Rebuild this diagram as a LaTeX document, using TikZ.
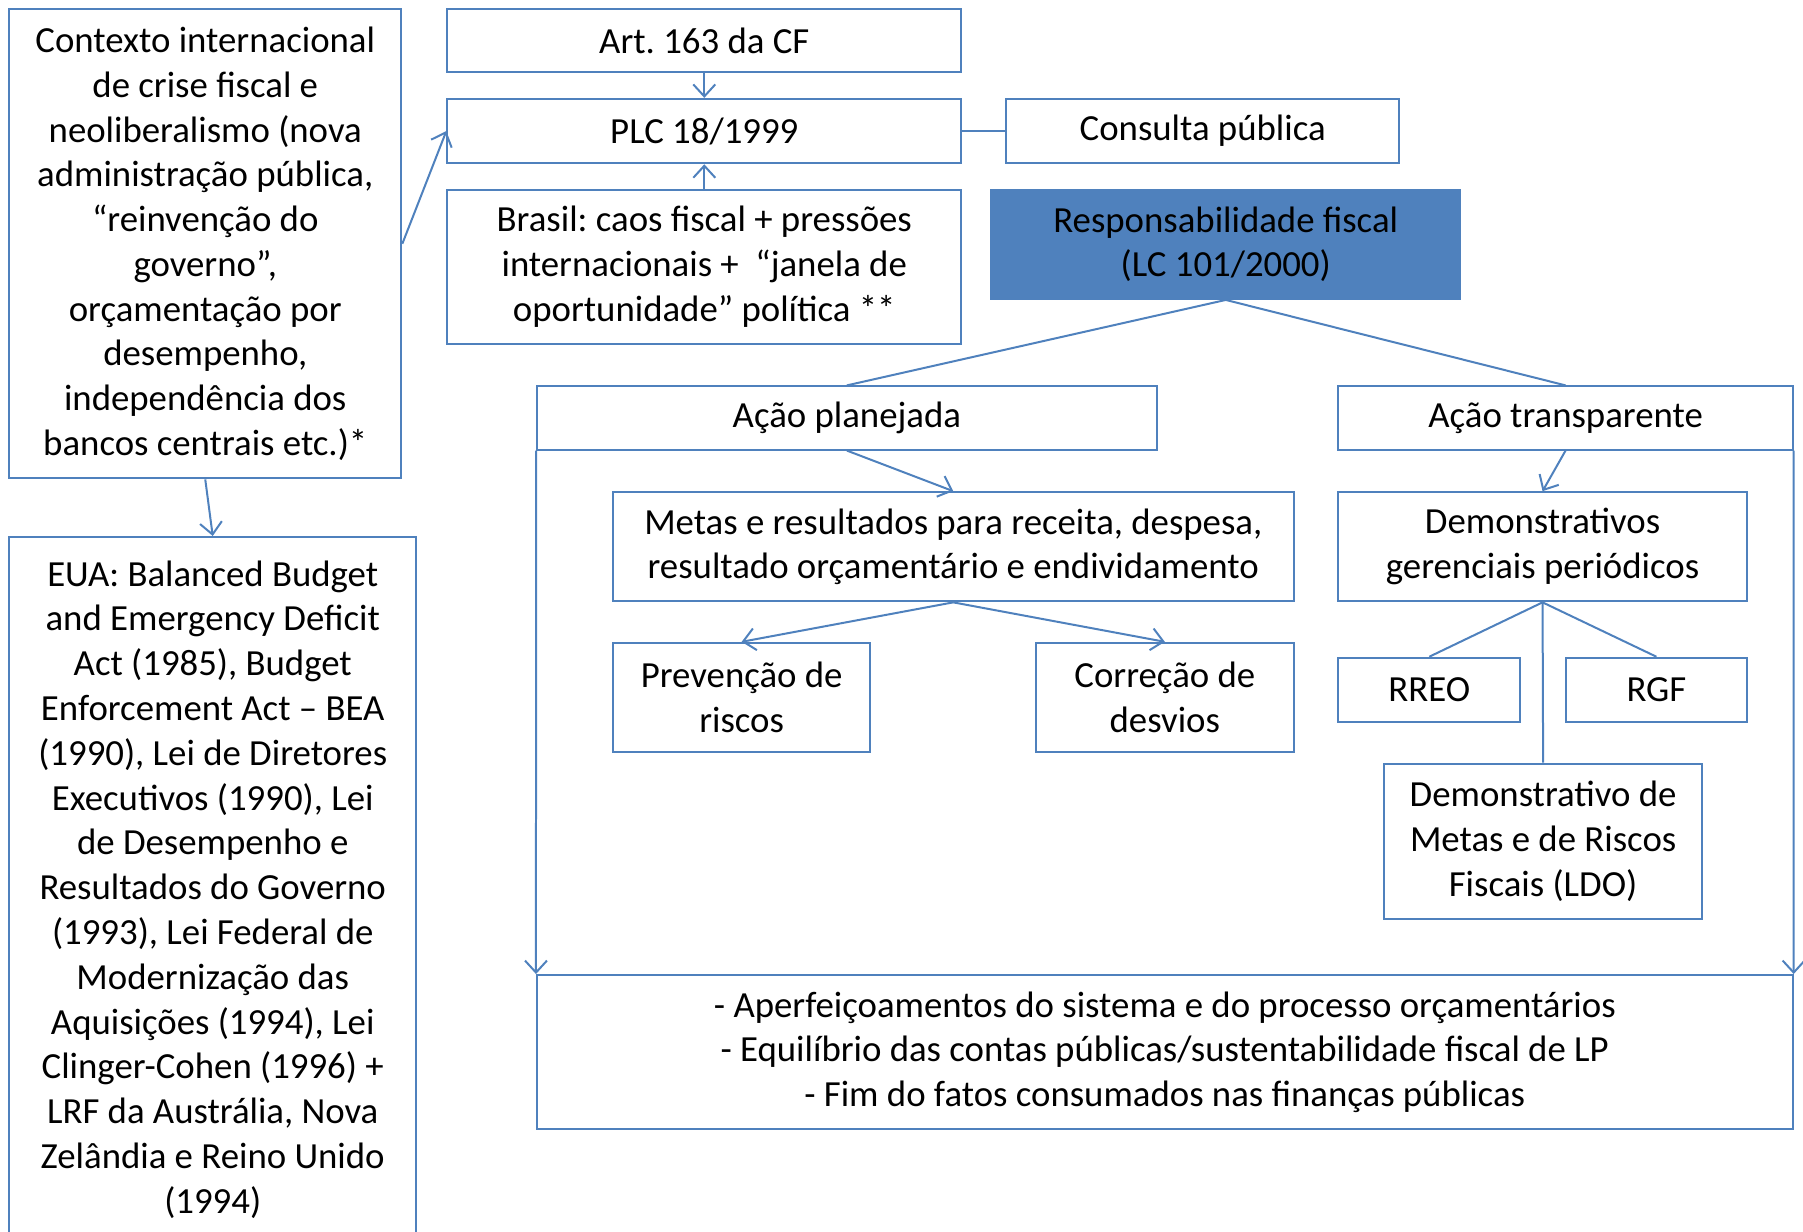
\documentclass[tikz,border=0pt]{standalone}
\usepackage{fontspec}
\setmainfont{Carlito}
\usetikzlibrary{arrows.meta}
\definecolor{lineblue}{RGB}{79,129,189}
\frenchspacing

\begin{document}
\begin{tikzpicture}[x=0.575pt,y=-0.575pt,
	font=\fontsize{18.4}{22.4}\selectfont,
	box/.style={draw=lineblue,line width=1pt,rectangle,align=center,inner sep=0pt},
	arr/.style={draw=lineblue,line width=1pt,-{Straight Barb[length=6pt,width=11pt]}},
	lnk/.style={draw=lineblue,line width=1pt}]
	\useasboundingbox (0,0) rectangle (1568,1071);
		\node[box,minimum width=196.1pt,minimum height=234.6pt](ctx) at (178.5,212) {Contexto internacional\\de crise fiscal e\\neoliberalismo (nova\\administração pública,\\“reinvenção do\\governo”,\\orçamentação por\\desempenho,\\independência dos\\bancos centrais etc.)*};
		\node[box,minimum width=203.6pt,minimum height=352.5pt](eua) at (185,773.5) {EUA: Balanced Budget\\and Emergency Deficit\\Act (1985), Budget\\Enforcement Act – BEA\\(1990), Lei de Diretores\\Executivos (1990), Lei\\de Desempenho e\\Resultados do Governo\\(1993), Lei Federal de\\Modernização das\\Aquisições (1994), Lei\\Clinger-Cohen (1996) +\\LRF da Austrália, Nova\\Zelândia e Reino Unido\\(1994)};
		\node[box,minimum width=257pt,minimum height=31.6pt](art) at (612.5,35.5) {Art. 163 da CF};
		\node[box,minimum width=257pt,minimum height=32.2pt](plc) at (612.5,114) {PLC 18/1999};
		\node[box,minimum width=257pt,minimum height=77.1pt](bra) at (612.5,232) {Brasil: caos fiscal + pressões\\internacionais + \ “janela de\\oportunidade” política **};
		\node[box,minimum width=196.7pt,minimum height=32.2pt](cons) at (1046,114) {Consulta pública};
		\node[box,fill=lineblue,minimum width=234.6pt,minimum height=54.6pt](resp) at (1066,212.5) {Responsabilidade fiscal\\(LC 101/2000)};
		\node[box,minimum width=309.9pt,minimum height=31.6pt](apl) at (736.5,363.5) {Ação planejada};
		\node[box,minimum width=227.1pt,minimum height=31.6pt](atr) at (1361.5,363.5) {Ação transparente};
		\node[box,minimum width=340.4pt,minimum height=54.6pt](metas) at (829,475.5) {Metas e resultados para receita, despesa,\\resultado orçamentário e endividamento};
		\node[box,minimum width=204.1pt,minimum height=54.6pt](dem) at (1341.5,475.5) {Demonstrativos\\gerenciais periódicos};
		\node[box,minimum width=128.8pt,minimum height=54.6pt](prev) at (645,606.5) {Prevenção de\\riscos};
		\node[box,minimum width=128.8pt,minimum height=54.6pt](corr) at (1013,606.5) {Correção de\\desvios};
		\node[box,minimum width=90.9pt,minimum height=32.2pt](rreo) at (1243,600) {RREO};
		\node[box,minimum width=90.3pt,minimum height=32.2pt](rgf) at (1440.5,600) {RGF};
		\node[box,minimum width=158.7pt,minimum height=77.6pt](dmr) at (1342,731.5) {Demonstrativo de\\Metas e de Riscos\\Fiscais (LDO)};
		\node[box,minimum width=627.9pt,minimum height=77.1pt](fim) at (1013,915) {- Aperfeiçoamentos do sistema e do processo orçamentários\\- Equilíbrio das contas públicas/sustentabilidade fiscal de LP\\- Fim do fatos consumados nas finanças públicas};

		\draw[arr] (art.south) -- (plc.north);
		\draw[arr] (bra.north) -- (plc.south);
		\draw[arr] (ctx.east) -- (plc.west);
		\draw[arr] (ctx.south) -- (eua.north);
		\draw[lnk] (plc.east) -- (cons.west);
		\draw[lnk] (resp.south) -- (apl.north);
		\draw[lnk] (resp.south) -- (atr.north);
		\draw[arr] (apl.south) -- (metas.north);
		\draw[arr] (atr.south) -- (dem.north);
		\draw[arr] (metas.south) -- (prev.north);
		\draw[arr] (metas.south) -- (corr.north);
		\draw[lnk] (dem.south) -- (rreo.north);
		\draw[lnk] (dem.south) -- (rgf.north);
		\draw[lnk] (dem.south) -- (dmr.north);
		\draw[arr] (apl.south west) -- (fim.north west);
		\draw[arr] (atr.south east) -- (fim.north east);
	\end{tikzpicture}
\end{document}
